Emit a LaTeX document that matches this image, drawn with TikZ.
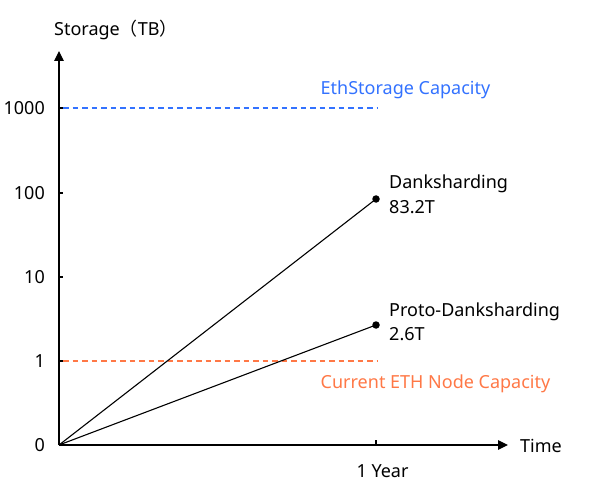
\documentclass[tikz,border=0pt]{standalone}
\usepackage{fontspec}
\setmainfont{Noto Sans}
\newfontfamily\cjk{Noto Sans CJK SC}
\usetikzlibrary{arrows.meta}
\definecolor{ethblue}{RGB}{51,114,255}
\definecolor{ethorange}{RGB}{255,120,70}
\tikzset{
  axisline/.style={line width=1.2pt,-{Triangle[length=10pt,width=9.5pt]}},
  tickline/.style={line width=1.2pt},
  growline/.style={line width=1.1pt},
  capline/.style={line width=1.3pt,dash pattern=on 5.5pt off 4pt},
  lbl/.style={inner sep=0pt,font=\fontsize{18}{21}\selectfont},
  dotmark/.style={circle,fill=black,inner sep=0pt,minimum size=7.5pt},
}
\begin{document}
\begin{tikzpicture}[x=1pt,y=-1pt]
\useasboundingbox (0,0) rectangle (600,500);
\coordinate (O) at (59,445);
\coordinate (ytop) at (59,51);
\coordinate (xend) at (508,445);
% axes
\draw[axisline] (O) -- (ytop);
\draw[axisline] (O) -- (xend);
% y ticks
\foreach \v/\yy/\n in {1000/108/a,100/193/b,10/277/c,1/361/d}{
  \coordinate (t\n) at (59,\yy);
  \draw[tickline] (t\n) -- ++(4,0);
  \node[lbl,anchor=east] (l\n) at (45,\yy) {\v};
}
\node[lbl,anchor=east] (l0) at (45,445) {0};
% x tick
\coordinate (ty) at (376,445);
\draw[tickline] (ty) -- ++(0,-5);
\node[lbl,anchor=base] (lyear) at (382.5,477) {1 Year};
\node[lbl,anchor=base west] (ltime) at (520,452) {Time};
\node[lbl,anchor=base west] (lstor) at (54,36) {Storage{\cjk（}TB{\cjk）}};
% capacity lines
\coordinate (bA) at (63,108);
\coordinate (bB) at (377,108);
\draw[capline,draw=ethblue] (bA) -- (bB);
\coordinate (oA) at (63,361);
\coordinate (oB) at (377,361);
\draw[capline,draw=ethorange] (oA) -- (oB);
\node[lbl,anchor=base west,text=ethblue] (leth) at (320.5,95) {EthStorage Capacity};
\node[lbl,anchor=base west,text=ethorange] (lcur) at (320.5,388) {Current ETH Node Capacity};
% growth lines
\node[dotmark] (pD) at (376,199) {};
\node[dotmark] (pP) at (376,325) {};
\draw[growline] (O) -- (pD.center);
\draw[growline] (O) -- (pP.center);
\node[lbl,anchor=base west] (lD) at (389,189) {Danksharding};
\node[lbl,anchor=base west] (lD2) at (389,213.5) {83.2T};
\node[lbl,anchor=base west] (lP) at (389,316) {Proto-Danksharding};
\node[lbl,anchor=base west] (lP2) at (389,340) {2.6T};
\end{tikzpicture}
\end{document}
